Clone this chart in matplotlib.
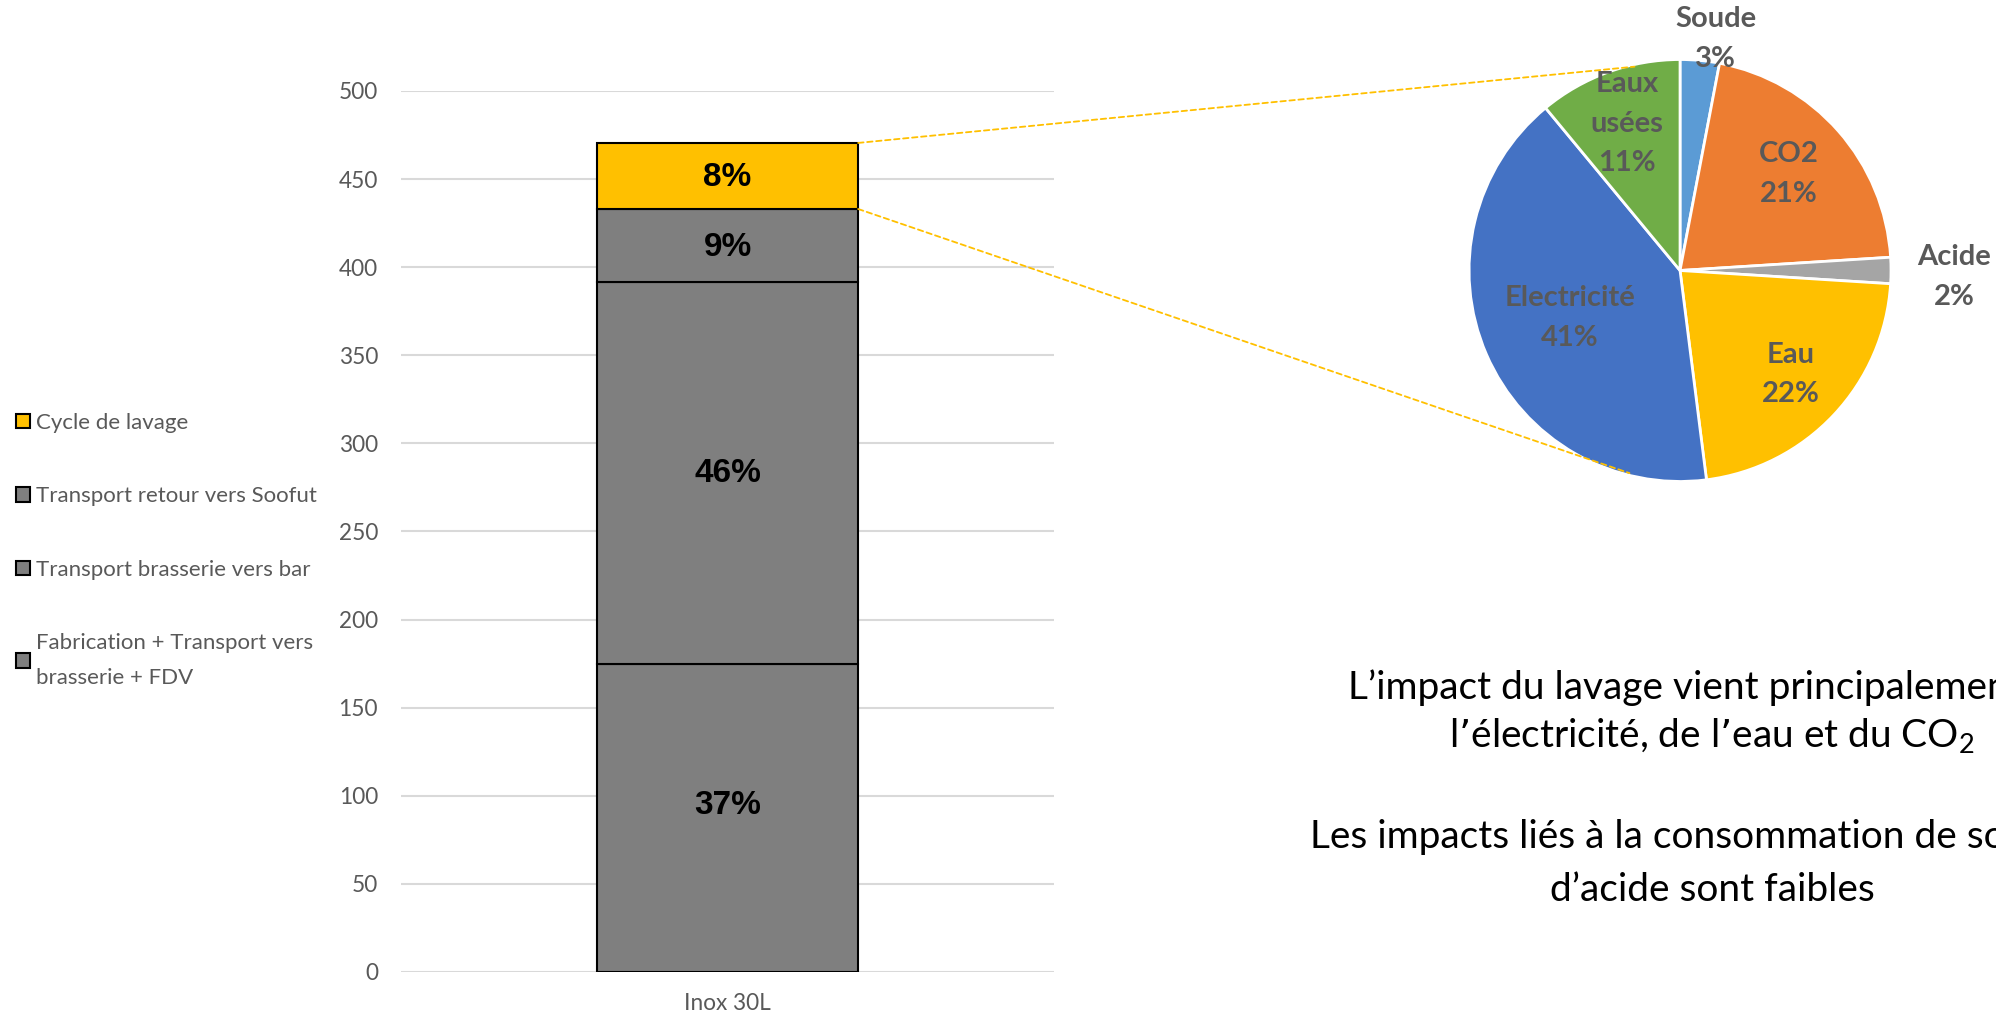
# Stacked impact bar for a 30L stainless keg, with the washing cycle split out in a pie

import matplotlib.pyplot as plt
import numpy as np
from matplotlib.patches import ConnectionPatch

categories = ['Inox 30L']
stages = ['Fabrication + Transport vers\nbrasserie + FDV',
          'Transport brasserie vers bar',
          'Transport retour vers Soofut',
          'Cycle de lavage']
stage_values = [174.5, 217.0, 41.5, 37.5]
stage_colors = ['#7F7F7F', '#7F7F7F', '#7F7F7F', '#FFC000']

wash_parts = ['Soude', 'CO2', 'Acide', 'Eau', 'Electricité', 'Eaux\nusées']
wash_shares = [3, 21, 2, 22, 41, 11]
wash_colors = ['#5B9BD5', '#ED7D31', '#A5A5A5', '#FFC000', '#4472C4', '#70AD47']

y_ticks = np.arange(0, 501, 50)

note_1 = "L\u2019impact du lavage vient principalement de\nl\u2019électricité, de l\u2019eau et du CO$_\\mathregular{2}$"
note_2 = "Les impacts liés à la consommation de soude et\nd\u2019acide sont faibles"


def main():
    plt.rcParams['font.family'] = ['Lato', 'DejaVu Sans']
    plt.rcParams['mathtext.default'] = 'regular'

    grey_txt = '#595959'
    fig = plt.figure(figsize=(19.96, 10.15), dpi=100)

    # stacked bar
    ax = fig.add_axes([0.2009, 0.0424, 0.3272, 0.868])
    label_shift = [7.5, 0., -1., -1.]
    bottom = 0.
    total = sum(stage_values)
    for name, val, col, dy in zip(stages, stage_values, stage_colors, label_shift):
        ax.bar(0, val, bottom=bottom, width=0.4, color=col, edgecolor='black',
               linewidth=1.5, label=name, zorder=3)
        ax.text(0, bottom + val / 2 + dy, '%d%%' % round(100 * val / total),
                ha='center', va='center', fontsize=24, fontweight='bold',
                family=['Liberation Sans', 'DejaVu Sans'], zorder=4)
        bottom += val

    ax.set_xlim(-0.5, 0.5)
    ax.set_ylim(0, 500)
    ax.set_yticks(y_ticks)
    ax.set_xticks([0])
    ax.set_xticklabels(categories)
    ax.tick_params(length=0, labelsize=16.3, labelcolor=grey_txt)
    ax.tick_params(axis='y', pad=16.5)
    ax.tick_params(axis='x', pad=15)
    ax.grid(axis='y', color='#D9D9D9', linewidth=1.5, zorder=0)
    for s in ax.spines.values():
        s.set_visible(False)

    handles, labels = ax.get_legend_handles_labels()
    leg = fig.legend(handles[::-1], labels[::-1], loc='upper left',
                     bbox_to_anchor=(0.008, 0.593), frameon=False, fontsize=16,
                     labelcolor=grey_txt, handlelength=0.62, handleheight=0.62,
                     handletextpad=0.3, labelspacing=2.4, borderpad=0,
                     borderaxespad=0)
    for t in leg.get_texts():
        t.set_linespacing(1.9)

    # pie of the washing cycle
    pax = fig.add_axes([0.7360, 0.5256, 0.2114, 0.4158])
    wedges, _ = pax.pie(wash_shares, colors=wash_colors, startangle=90,
                        counterclock=False, radius=1.,
                        wedgeprops=dict(edgecolor='white', linewidth=2))
    pax.set_xlim(-1, 1)
    pax.set_ylim(-1, 1)
    pax.set_aspect('equal')
    pax.axis('off')

    label_dist = [1.11, 0.69, 1.30, 0.72, 0.57, 0.74]
    label_turn = [-3.4, 0., -1.3, 0., 0., 0.]
    for w, name, share, d, turn in zip(wedges, wash_parts, wash_shares,
                                       label_dist, label_turn):
        mid = np.deg2rad((w.theta1 + w.theta2) / 2 + turn)
        pax.text(d * np.cos(mid), d * np.sin(mid), '%s\n%d%%' % (name, share),
                 ha='center', va='center', fontsize=21, fontweight='bold',
                 color=grey_txt, linespacing=1.65, clip_on=False, zorder=5)

    # dashed links from the washing segment to the pie
    link_angles = [102.6, 256.]
    link_heights = [total, total - stage_values[-1]]
    for ang, yb in zip(link_angles, link_heights):
        a = np.deg2rad(ang)
        con = ConnectionPatch(xyA=(0.2, yb), coordsA=ax.transData,
                              xyB=(0.99 * np.cos(a), 0.99 * np.sin(a)),
                              coordsB=pax.transData, color='#FFC000',
                              linewidth=1.3, linestyle=(0, (3, 2)), zorder=6)
        fig.add_artist(con)

    fig.text(0.8577, 0.2985, note_1, ha='center', va='center', fontsize=28,
             linespacing=1.33)
    fig.text(0.8577, 0.1493, note_2, ha='center', va='center', fontsize=28,
             linespacing=1.58)

    fig.savefig('out.png', dpi=100)


if __name__ == "__main__":
    main()
